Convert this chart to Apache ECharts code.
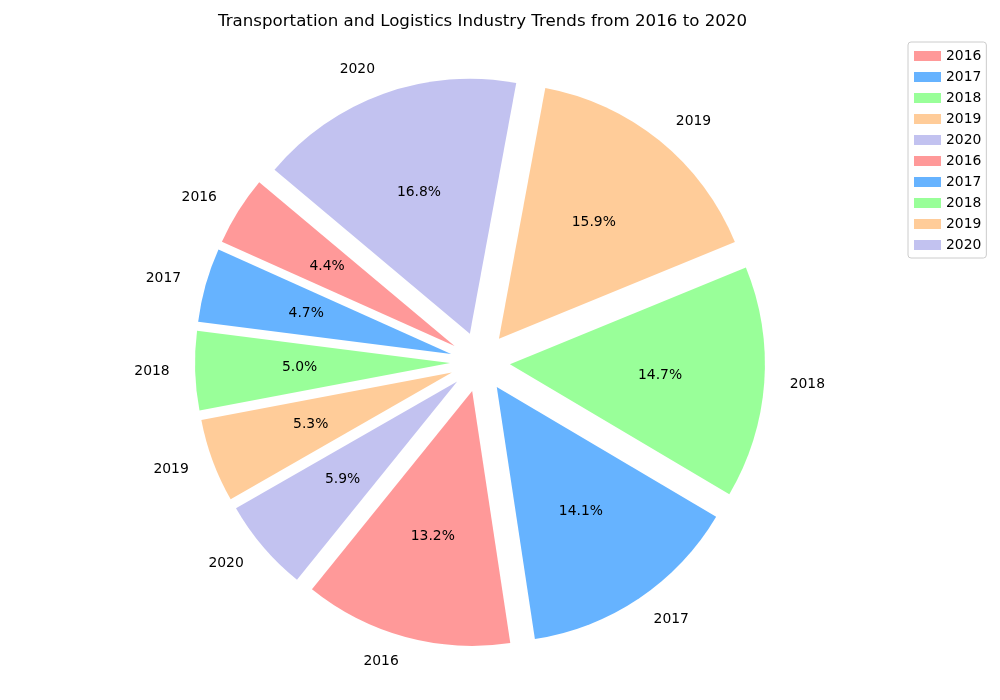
<!DOCTYPE html>
<html>
<head>
<meta charset="utf-8">
<script src="https://cdn.jsdelivr.net/npm/echarts@6/dist/echarts.min.js"></script>
<style>
html, body { margin: 0; padding: 0; background: #fff; }
#chart { width: 1000px; height: 700px; }
</style>
</head>
<body>
<div id="chart"></div>
<script>
const years = ['2016', '2017', '2018', '2019', '2020', '2016', '2017', '2018', '2019', '2020'];
const shares = [4.4, 4.7, 5.0, 5.3, 5.9, 13.2, 14.1, 14.7, 15.9, 16.8];
const colors = ['#ff9999', '#66b3ff', '#99ff99', '#ffcc99', '#c2c2f0',
                '#ff9999', '#66b3ff', '#99ff99', '#ffcc99', '#c2c2f0'];

// the legend skips repeated names, so repeats get a trailing space (trimmed on display)
const keys = years.map((y, i) => y + ' '.repeat(years.slice(0, i).filter(v => v === y).length));

const center = [480, 362];
const R = 255;
const explode = 30;
const clear = 'rgba(0,0,0,0)';

function pieData(withColor) {
    return keys.map((k, i) => ({
        name: k,
        value: shares[i],
        selected: withColor,
        itemStyle: { color: withColor ? colors[i] : clear }
    }));
}

const base = {
    type: 'pie',
    center: center,
    startAngle: 140,
    clockwise: false,
    avoidLabelOverlap: false,
    animation: false,
    emphasis: { disabled: true },
    itemStyle: { borderWidth: 0 },
};

const chart = echarts.init(document.getElementById('chart'));
chart.setOption({
    animation: false,
    textStyle: { fontFamily: 'DejaVu Sans' },
    title: {
        text: 'Transportation and Logistics Industry Trends from 2016 to 2020',
        left: 218,
        top: 13,
        padding: 0,
        textStyle: { fontSize: 16.67, fontWeight: 'normal', color: '#000', fontFamily: 'DejaVu Sans' }
    },
    legend: {
        data: keys,
        formatter: n => n.trim(),
        orient: 'vertical',
        left: 908,
        top: 42,
        icon: 'rect',
        itemWidth: 27,
        itemHeight: 10,
        itemGap: 7,
        itemTextGap: 12,
        padding: [7, 5, 6, 6],
        borderColor: '#cccccc',
        borderWidth: 1,
        borderRadius: 3,
        textStyle: { fontSize: 13.9, color: '#000', fontFamily: 'DejaVu Sans' }
    },
    series: [
        Object.assign({}, base, {
            name: 'slices',
            radius: R,
            selectedMode: 'multiple',
            selectedOffset: explode,
            label: { show: false },
            labelLine: { show: false },
            data: pieData(true)
        }),
        Object.assign({}, base, {
            name: 'years',
            radius: R,
            silent: true,
            selectedMode: false,
            label: {
                show: true,
                position: 'outside',
                formatter: p => p.name.trim(),
                distanceToLabelLine: 0,
                fontSize: 13.9,
                color: '#000'
            },
            labelLine: { show: false, length: explode + R * 0.1, length2: 0 },
            data: pieData(false)
        }),
        Object.assign({}, base, {
            name: 'pct',
            radius: 355,
            silent: true,
            selectedMode: false,
            label: {
                show: true,
                position: 'inside',
                formatter: p => shares[p.dataIndex].toFixed(1) + '%',
                fontSize: 13.9,
                color: '#000',
                textBorderWidth: 0
            },
            labelLine: { show: false },
            data: pieData(false)
        })
    ]
});
</script>
</body>
</html>
